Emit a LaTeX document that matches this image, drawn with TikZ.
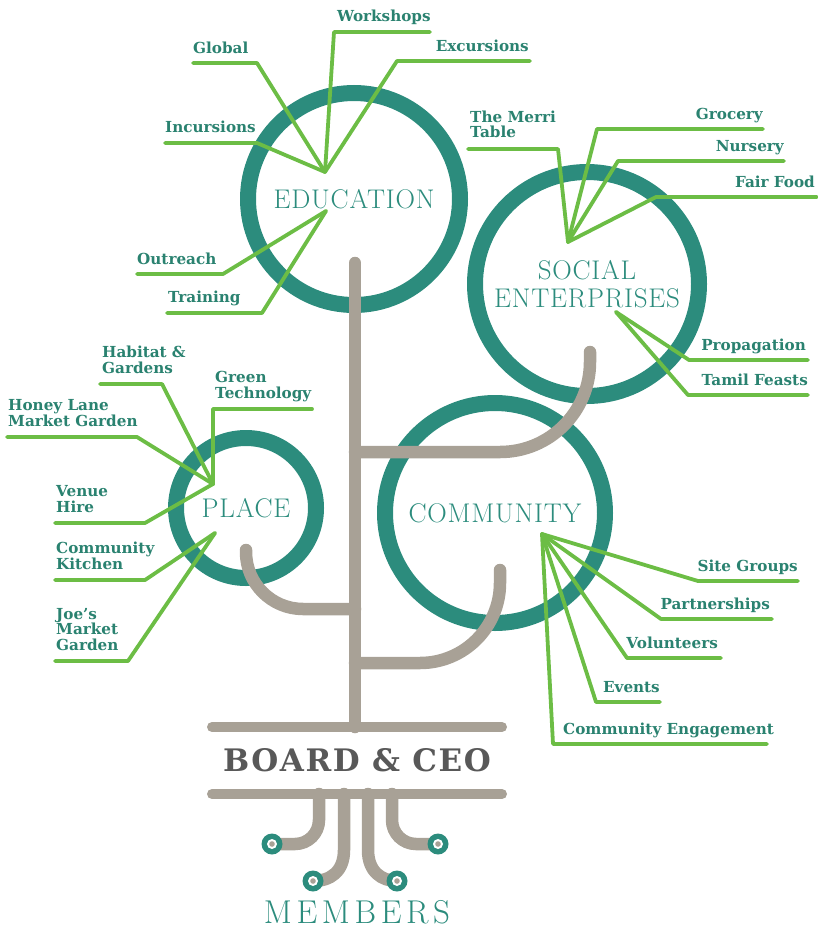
\documentclass[tikz,border=0pt]{standalone}
\usepackage{fontspec}
\newfontfamily\slab{DejaVu Serif}
\newfontfamily\slabwide{DejaVu Serif}[LetterSpace=5]
\newfontfamily\ringserif{lmroman17-regular.otf}[LetterSpace=3]
\newfontfamily\ringwide{lmroman17-regular.otf}[LetterSpace=14]
\definecolor{ringteal}{HTML}{2C8C7D}
\definecolor{labelteal}{HTML}{2A8270}
\definecolor{twiggreen}{HTML}{6CBD45}
\definecolor{barkgray}{HTML}{A8A196}
\definecolor{boardgray}{HTML}{585858}
\tikzset{
  ring/.style={circle, draw=ringteal, line width=16pt, text=ringteal, align=center, inner sep=0pt,
    font=\ringserif\fontsize{27}{28}\selectfont},
  bark/.style={draw=barkgray, line width=12.5pt, line cap=round},
  twig/.style={draw=twiggreen, line width=3.8pt, line cap=round, line join=round},
  leaf/.style={font=\slab\bfseries\fontsize{15.2}{15.5}\selectfont, text=labelteal, inner sep=0pt,
    text depth=0pt, align=left},
}
\begin{document}
\begin{tikzpicture}[x=1pt,y=-1pt]
\useasboundingbox (0,0) rectangle (818,931);
% the four circles
\node[ring, minimum size=212pt] (education) at (354,199) {EDUCATION};
\node[ring, minimum size=224pt] (social) at (587,284) {SOCIAL\\ENTERPRISES};
\node[ring, minimum size=140pt] (place) at (246,508) {PLACE};
\node[ring, minimum size=220pt] (community) at (495,513) {COMMUNITY};
% trunk and branches
\draw[bark] (355,263) -- (355,727);
\draw[bark, rounded corners=90pt] (355,452) -- (590,452) -- (590,352);
\draw[bark, rounded corners=80pt] (355,663) -- (500,663) -- (500,570);
\draw[bark, rounded corners=57pt] (355,609) -- (246,609) -- (246,550);
\draw[bark, line width=10pt] (212,727) -- (502,727);
\draw[bark, line width=10pt] (212,794) -- (502,794);
\node[font=\slabwide\bfseries\fontsize{31}{31}\selectfont, text=boardgray] (board) at (357,760) {BOARD \& CEO};
% roots
\coordinate (m1) at (272,844);
\coordinate (m2) at (313,881);
\coordinate (m3) at (397,881);
\coordinate (m4) at (438,844);
\draw[bark, rounded corners=24pt] (319,794) |- (m1);
\draw[bark] (344,794) -- (344,850) .. controls (344,872) and (330,881) .. (m2);
\draw[bark] (368,794) -- (368,850) .. controls (368,872) and (382,881) .. (m3);
\draw[bark, rounded corners=24pt] (392,794) |- (m4);
\foreach \m in {m1,m2,m3,m4} {
  \fill[ringteal] (\m) circle (10.5pt);
  \fill[white] (\m) circle (5pt);
  \fill[barkgray] (\m) circle (2.8pt);
}
\node[font=\ringwide\fontsize{33}{33}\selectfont, text=ringteal, inner sep=0pt, anchor=base] (members) at (357,923) {MEMBERS};
% focal points of the twigs
\coordinate (edtop) at (325,172);
\coordinate (edbot) at (326,211);
\coordinate (sotop) at (568,242);
\coordinate (sobot) at (616,312);
\coordinate (pltop) at (213,484);
\coordinate (plbot) at (215,533);
\coordinate (cotop) at (542,534);
% twigs: name/focal/knee/end/height
\foreach \nm/\fc/\kx/\ex/\yy in {workshops/edtop/334/430/32, global/edtop/257/193/63,
    excursions/edtop/397/530/61, incursions/edtop/257/165/143, outreach/edbot/223/137/274,
    training/edbot/262/167/313, merri/sotop/558/468/149, grocery/sotop/597/763/129,
    nursery/sotop/618/784/161, fairfood/sotop/656/817/197, propagation/sobot/689/808/360,
    tamil/sobot/688/808/395, habitat/pltop/162/100/384, greentech/pltop/213/312/409,
    honeylane/pltop/137/7/437, venue/pltop/145/55/523, kitchen/plbot/145/55/580,
    joes/plbot/128/55/661, sitegroups/cotop/698/798/581, partnerships/cotop/661/772/619,
    volunteers/cotop/627/721/658, events/cotop/596/660/702, engagement/cotop/553/767/744}
  \draw[twig] (\fc) -- (\kx,\yy) coordinate (\nm-k) -- (\ex,\yy) coordinate (\nm-e);
% labels
\node[leaf, anchor=south west] (workshops) at (337,22) {Workshops};
\node[leaf, anchor=south west] (global) at (193,53.5) {Global};
\node[leaf, anchor=south east] (excursions) at (529,51.5) {Excursions};
\node[leaf, anchor=south west] (incursions) at (165,133) {Incursions};
\node[leaf, anchor=south west] (outreach) at (137,264.5) {Outreach};
\node[leaf, anchor=south west] (training) at (168,303) {Training};
\node[leaf, anchor=south west] (merri) at (470,138) {The Merri\\Table};
\node[leaf, anchor=south east] (grocery) at (763,119.5) {Grocery};
\node[leaf, anchor=south east] (nursery) at (784,151.5) {Nursery};
\node[leaf, anchor=south east] (fairfood) at (815,187.5) {Fair Food};
\node[leaf, anchor=south east] (propagation) at (806,350.5) {Propagation};
\node[leaf, anchor=south east] (tamil) at (808,385.5) {Tamil Feasts};
\node[leaf, anchor=south west] (habitat) at (102,373.5) {Habitat \&\\Gardens};
\node[leaf, anchor=south west] (greentech) at (215,398.5) {Green\\Technology};
\node[leaf, anchor=south west] (honeylane) at (8,426.5) {Honey Lane\\Market Garden};
\node[leaf, anchor=south west] (venue) at (56,512.5) {Venue\\Hire};
\node[leaf, anchor=south west] (kitchen) at (56,569.5) {Community\\Kitchen};
\node[leaf, anchor=south west] (joes) at (56,650.5) {Joe’s\\Market\\Garden};
\node[leaf, anchor=south east] (sitegroups) at (798,571.5) {Site Groups};
\node[leaf, anchor=south east] (partnerships) at (770,609.5) {Partnerships};
\node[leaf, anchor=south east] (volunteers) at (718,648.5) {Volunteers};
\node[leaf, anchor=south east] (events) at (660,692.5) {Events};
\node[leaf, anchor=south west] (engagement) at (563,734.5) {Community Engagement};
\end{tikzpicture}
\end{document}
